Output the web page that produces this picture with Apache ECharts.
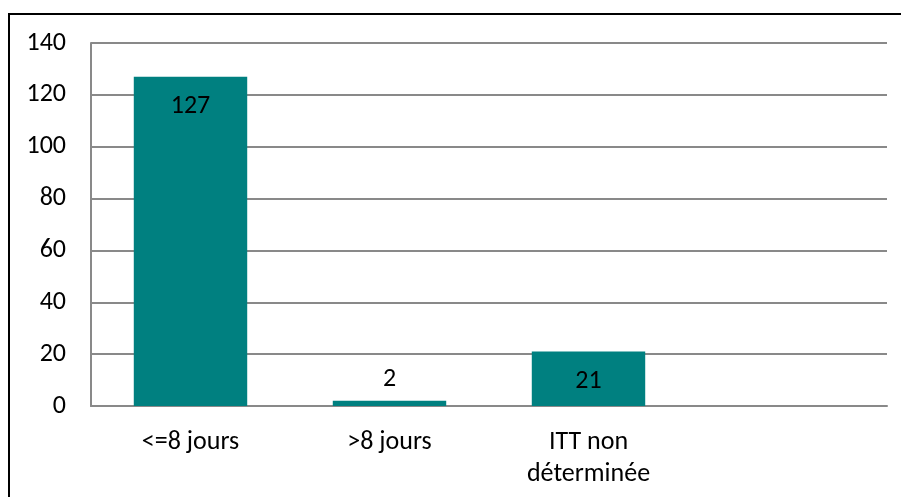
<!DOCTYPE html>
<html>
<head>
<meta charset="utf-8">
<script src="https://cdn.jsdelivr.net/npm/echarts@6/dist/echarts.min.js"></script>
<style>
html,body{margin:0;padding:0;background:#fff;}
#c{width:901px;height:497px;}
</style>
</head>
<body>
<div id="c"></div>
<script>
var categories = ['<=8 jours', '>8 jours', 'ITT non\ndéterminée', ''];
var values = [127, 2, 21, null];

var chart = echarts.init(document.getElementById('c'), null, {renderer: 'canvas'});
var font = 'Carlito, "Open Sans", "Liberation Sans", sans-serif';
var data = values.map(function (v) {
  // Excel puts small values' labels above the bar
  var above = v !== null && v < 10;
  return {
    value: v,
    label: {position: above ? 'top' : 'insideTop', distance: above ? 8 : 17}
  };
});
chart.setOption({
  animation: false,
  backgroundColor: '#fff',
  grid: {left: 91, right: 14, top: 43, bottom: 91, containLabel: false},
  xAxis: {
    type: 'category',
    data: categories,
    axisLine: {show: true, lineStyle: {color: '#898989', width: 2}},
    axisTick: {show: false},
    axisLabel: {color: '#000', fontSize: 26, fontFamily: font, margin: 20, lineHeight: 32, interval: 0}
  },
  yAxis: {
    type: 'value',
    min: 0, max: 140, interval: 20,
    axisLine: {show: true, lineStyle: {color: '#898989', width: 2}},
    axisTick: {show: false},
    axisLabel: {color: '#000', fontSize: 26, fontFamily: font, margin: 25},
    splitLine: {lineStyle: {color: '#898989', width: 2}}
  },
  series: [{
    type: 'bar',
    data: data,
    barWidth: '57%',
    itemStyle: {color: '#008080'},
    label: {show: true, color: '#000', fontSize: 26, fontFamily: font}
  }],
  graphic: [{
    type: 'rect',
    shape: {x: 9, y: 14, width: 920, height: 520},
    style: {fill: 'none', stroke: '#000', lineWidth: 2},
    silent: true
  }]
});
</script>
</body>
</html>
